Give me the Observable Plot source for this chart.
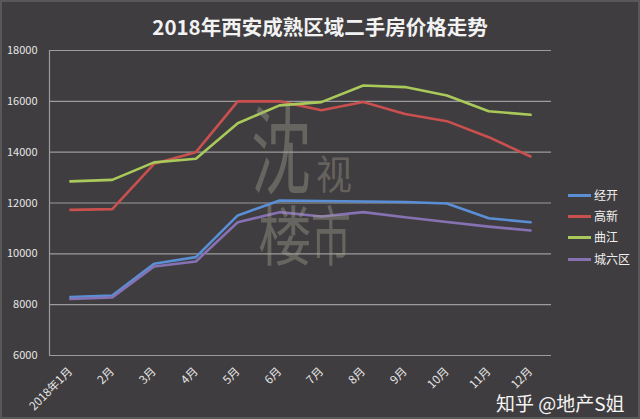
<!DOCTYPE html>
<html><head><meta charset="utf-8">
<script src="https://cdn.jsdelivr.net/npm/d3@7"></script>
<script src="https://cdn.jsdelivr.net/npm/@observablehq/plot@0.6"></script>
<style>
html,body{margin:0;padding:0;background:#3f3d3f;}
#wrap{position:relative;width:640px;height:419px;overflow:hidden;font-family:"Noto Sans CJK SC","Noto Sans",sans-serif;background:#3f3d3f;}
#wrap svg{position:absolute;left:0;top:0;}
.abs{position:absolute;white-space:nowrap;}
#title{left:0;width:640px;top:11px;text-align:center;color:#f2f2f2;font-size:20.5px;font-weight:bold;}
.wm{position:absolute;color:rgba(165,162,145,0.40);font-family:"Noto Sans CJK SC",serif;line-height:1;transform-origin:0 0;white-space:nowrap;}
.leg{position:absolute;left:568px;height:14px;width:70px;white-space:nowrap;}
.leg span.sw{position:absolute;left:0;top:6px;width:23px;height:3px;}
.leg span.tx{position:absolute;left:26px;top:-2px;color:#f0f0f0;font-size:12px;white-space:nowrap;}
#frame{position:absolute;left:0;top:0;width:640px;height:419px;box-sizing:border-box;border:2px solid #595859;pointer-events:none;}
#zhihu{left:496px;top:389px;color:#f4f4f4;font-size:19px;}
</style></head>
<body>
<div id="wrap">
  <div class="wm" style="left:251px;top:96px;font-size:60px;transform:scale(1,1.6);">沈</div>
  <div class="wm" style="left:316px;top:152px;font-size:36px;transform:scale(1,1.1);">视</div>
  <div class="wm" style="left:258px;top:200px;font-size:54px;transform:scale(1,1.2);">楼</div>
  <div class="wm" style="left:311px;top:200px;font-size:42px;transform:scale(0.95,1.55);">市</div>
</div>
<script>
const months = ["2018年1月","2月","3月","4月","5月","6月","7月","8月","9月","10月","11月","12月"];
const names = ["经开","高新","曲江","城六区"];
const colors = ["#5a8fd6","#c9504e","#a9c95a","#8671b3"];
const jingkai  = [8300, 8360, 9610, 9870, 11510, 12100, 12080, 12060, 12040, 11980, 11400, 11240];
const gaoxin   = [11730, 11760, 13540, 14000, 16000, 16000, 15650, 15970, 15500, 15220, 14590, 13830];
const qujiang  = [12850, 12910, 13600, 13740, 15140, 15840, 15970, 16620, 16560, 16230, 15610, 15470];
const chengliu = [8220, 8280, 9500, 9700, 11240, 11640, 11470, 11640, 11440, 11250, 11070, 10920];
const yTicks = [6000, 8000, 10000, 12000, 14000, 16000, 18000];

const seriesValues = [jingkai, gaoxin, qujiang, chengliu];
const data = seriesValues.flatMap((vals, s) => vals.map((v, i) => ({i, value: v, name: names[s]})));

const chart = Plot.plot({
  width: 640, height: 419,
  marginLeft: 49, marginRight: 89, marginTop: 50, marginBottom: 64,
  style: {background: "transparent", color: "#e2e2e2", fontSize: "11px", fontFamily: "'Noto Sans CJK SC','Noto Sans',sans-serif"},
  x: {domain: [-0.5, 11.5], label: null},
  y: {domain: [6000, 18000], label: null},
  color: {domain: names, range: colors},
  marks: [
    Plot.gridY(yTicks, {stroke: "#9c9c9c", strokeOpacity: 1, strokeWidth: 1.2}),
    Plot.ruleX([-0.5], {stroke: "#9c9c9c", strokeWidth: 1.2}),
    Plot.axisY({ticks: yTicks, tickSize: 0, tickPadding: 12, tickFormat: d3.format("d"), fill: "#e6e6e6"}),
    Plot.axisX({ticks: d3.range(12), tickFormat: i => months[i], tickSize: 0, tickPadding: 14, tickRotate: -45, fill: "#e6e6e6", fontSize: 11.5}),
    Plot.line(data, {x: "i", y: "value", z: "name", stroke: "name", strokeWidth: 2.6, strokeLinejoin: "round"})
  ]
});
const wrap = document.getElementById("wrap");
wrap.insertBefore(chart, wrap.firstChild);

const title = document.createElement("div");
title.className = "abs"; title.id = "title";
title.textContent = "2018年西安成熟区域二手房价格走势";
wrap.appendChild(title);

const legYs = [188, 209, 230, 252];
names.forEach((n, k) => {
  const d = document.createElement("div");
  d.className = "leg"; d.style.top = legYs[k] + "px";
  d.innerHTML = `<span class="sw" style="background:${colors[k]}"></span><span class="tx">${n}</span>`;
  wrap.appendChild(d);
});

const z = document.createElement("div");
z.className = "abs"; z.id = "zhihu"; z.textContent = "知乎 @地产S姐";
wrap.appendChild(z);

const f = document.createElement("div"); f.id = "frame"; wrap.appendChild(f);
</script>
</body></html>
